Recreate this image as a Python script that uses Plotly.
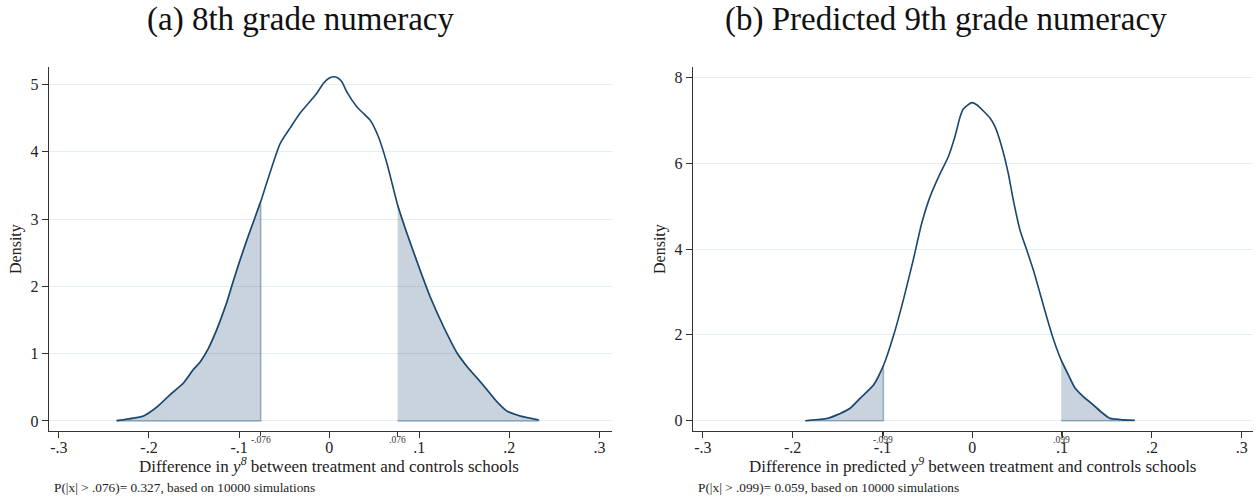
import numpy as np
import plotly.graph_objects as go

# ---------------- data ----------------
x8 = [-0.236, -0.206, -0.191, -0.177, -0.162, -0.151, -0.143, -0.134, -0.125, -0.114,
      -0.106, -0.099, -0.090, -0.076, -0.069, -0.0544, -0.043, -0.032, -0.0137, -0.0063,
      -0.0007, 0.0048, 0.0093, 0.0141, 0.0196, 0.0307, 0.0381, 0.0456, 0.0548, 0.0641,
      0.076, 0.0863, 0.101, 0.112, 0.127, 0.142, 0.153, 0.171, 0.186, 0.197,
      0.212, 0.2326]
d8 = [0.005, 0.074, 0.21, 0.386, 0.56, 0.76, 0.88, 1.08, 1.35, 1.75,
      2.10, 2.39, 2.74, 3.26, 3.55, 4.12, 4.36, 4.58, 4.87, 5.02,
      5.09, 5.115, 5.10, 5.04, 4.89, 4.67, 4.57, 4.47, 4.22, 3.83,
      3.21, 2.79, 2.24, 1.85, 1.40, 1.01, 0.81, 0.535, 0.29, 0.15,
      0.074, 0.015]
thr8 = 0.076

x9 = [-0.186, -0.162, -0.147, -0.136, -0.125, -0.110, -0.099, -0.088, -0.0768, -0.0657,
      -0.0563, -0.047, -0.036, -0.0267, -0.0193, -0.0137, -0.010, -0.0007, 0.0049, 0.0197,
      0.0253, 0.0327, 0.040, 0.0457, 0.053, 0.0606, 0.068, 0.0754, 0.0828, 0.090,
      0.099, 0.1069, 0.1144, 0.1236, 0.1347, 0.144, 0.153, 0.168, 0.181]
d9 = [0.0, 0.05, 0.17, 0.29, 0.52, 0.83, 1.28, 1.96, 2.81, 3.75,
      4.60, 5.22, 5.75, 6.15, 6.62, 7.07, 7.26, 7.41, 7.36, 7.05,
      6.85, 6.39, 5.77, 5.14, 4.45, 3.98, 3.51, 2.97, 2.42, 1.92,
      1.41, 1.07, 0.76, 0.56, 0.37, 0.19, 0.055, 0.02, 0.01]
thr9 = 0.099

xtick_vals = [-0.3, -0.2, -0.1, 0, 0.1, 0.2, 0.3]
xtick_text = ["-.3", "-.2", "-.1", "0", ".1", ".2", ".3"]
ytick8 = [0, 1, 2, 3, 4, 5]
ytick9 = [0, 2, 4, 6, 8]

titles = ["(a) 8th grade numeracy", "(b) Predicted 9th grade numeracy"]
xtitles = ["Difference in <i>y</i><sup><i>8</i></sup> between treatment and controls schools",
           "Difference in predicted <i>y</i><sup><i>9</i></sup> between treatment and controls schools"]
notes = ["P(|x| > .076)= 0.327, based on 10000 simulations",
         "P(|x| > .099)= 0.059, based on 10000 simulations"]
thr_labels = [["-.076", ".076"], ["-.099", ".099"]]

# ---------------- styling ----------------
W, H = 1257, 497
SERIF = "Liberation Serif"
NAVY = "#1a476f"
FILL = "rgba(26,71,111,0.24)"
EDGE = "rgba(26,71,111,0.38)"
GRID = "#e5eef2"
AXC = "#333333"


def fx(p):
    return p / W


def fy(p):
    return 1 - p / H


fig = go.Figure()


def add_panel(xs, ds, thr, xa, ya):
    xs = np.asarray(xs)
    ds = np.asarray(ds)
    m = xs <= -thr + 1e-9
    lx = list(xs[m]) + [xs[m][-1], xs[m][0]]
    ly = list(ds[m]) + [0, 0]
    m2 = xs >= thr - 1e-9
    rx = list(xs[m2]) + [xs[m2][-1], xs[m2][0]]
    ry = list(ds[m2]) + [0, 0]
    for tx, ty in ((lx, ly), (rx, ry)):
        fig.add_trace(go.Scatter(x=tx, y=ty, mode="lines", fill="toself",
                                 fillcolor=FILL, line=dict(color=EDGE, width=1.5),
                                 xaxis=xa, yaxis=ya, hoverinfo="skip", showlegend=False))
    fig.add_trace(go.Scatter(x=xs, y=ds, mode="lines",
                             line=dict(color=NAVY, width=1.6, shape="spline", smoothing=0.6),
                             xaxis=xa, yaxis=ya, showlegend=False))


add_panel(x8, d8, thr8, "x", "y")
add_panel(x9, d9, thr9, "x2", "y2")

ydom = [fy(431), fy(67)]


def xaxis_cfg(dom, rng, thr, anchor):
    return dict(domain=dom, range=rng, tickmode="array", tickvals=xtick_vals,
                ticktext=xtick_text, ticks="outside", ticklen=6, tickwidth=1.2,
                tickcolor=AXC, showline=True, linecolor=AXC, linewidth=1.4,
                showgrid=False, zeroline=False, anchor=anchor, ticklabelstandoff=-4,
                tickfont=dict(family=SERIF, size=16, color="#222"),
                minor=dict(tickmode="array", tickvals=[-thr, thr], ticks="outside",
                           ticklen=4, tickcolor=AXC, tickwidth=1, showgrid=False))


def yaxis_cfg(rng, tv, anchor):
    return dict(domain=ydom, range=rng, tickmode="array", tickvals=tv,
                ticktext=[str(v) for v in tv], ticks="outside", ticklen=6, tickwidth=1.2,
                tickcolor=AXC, showline=True, linecolor=AXC, linewidth=1.4,
                showgrid=True, gridcolor=GRID, gridwidth=1.3, zeroline=False,
                tickfont=dict(family=SERIF, size=16, color="#222"), anchor=anchor)


fig.update_layout(
    width=W, height=H, margin=dict(l=0, r=0, t=0, b=0),
    paper_bgcolor="white", plot_bgcolor="white", showlegend=False,
    xaxis=xaxis_cfg([fx(49), fx(612)], [-0.311, 0.314], thr8, "y"),
    yaxis=yaxis_cfg([-0.149, 5.26], ytick8, "x"),
    xaxis2=xaxis_cfg([fx(693), fx(1253)], [-0.311, 0.3126], thr9, "y2"),
    yaxis2=yaxis_cfg([-0.24, 8.24], ytick9, "x2"),
)

ann = []
for t, cx in zip(titles, [300, 946]):
    ann.append(dict(text=t, x=fx(cx), y=fy(19), xref="paper", yref="paper",
                    xanchor="center", yanchor="middle", showarrow=False,
                    font=dict(family=SERIF, size=33, color="#111")))
for cx in [16, 660]:
    ann.append(dict(text="Density", x=fx(cx), y=fy(249), xref="paper", yref="paper",
                    xanchor="center", yanchor="middle", textangle=-90, showarrow=False,
                    font=dict(family=SERIF, size=16, color="#222")))
for t, xr in zip(xtitles, ["x", "x2"]):
    ann.append(dict(text=t, x=0, y=fy(465), xref=xr, yref="paper",
                    xanchor="center", yanchor="middle", showarrow=False,
                    font=dict(family=SERIF, size=17, color="#222")))
for t, lx in zip(notes, [52, 696]):
    ann.append(dict(text=t, x=fx(lx), y=fy(487), xref="paper", yref="paper",
                    xanchor="left", yanchor="middle", showarrow=False,
                    font=dict(family=SERIF, size=13.3, color="#222")))
for labs, thr, xr in zip(thr_labels, [thr8, thr9], ["x", "x2"]):
    for lab, v in zip(labs, [-thr, thr]):
        ann.append(dict(text=lab, x=v, y=fy(440), xref=xr, yref="paper",
                        xanchor="center", yanchor="middle", showarrow=False,
                        font=dict(family=SERIF, size=9.5, color="#333")))
fig.update_layout(annotations=ann)

fig.write_html("out.html")
